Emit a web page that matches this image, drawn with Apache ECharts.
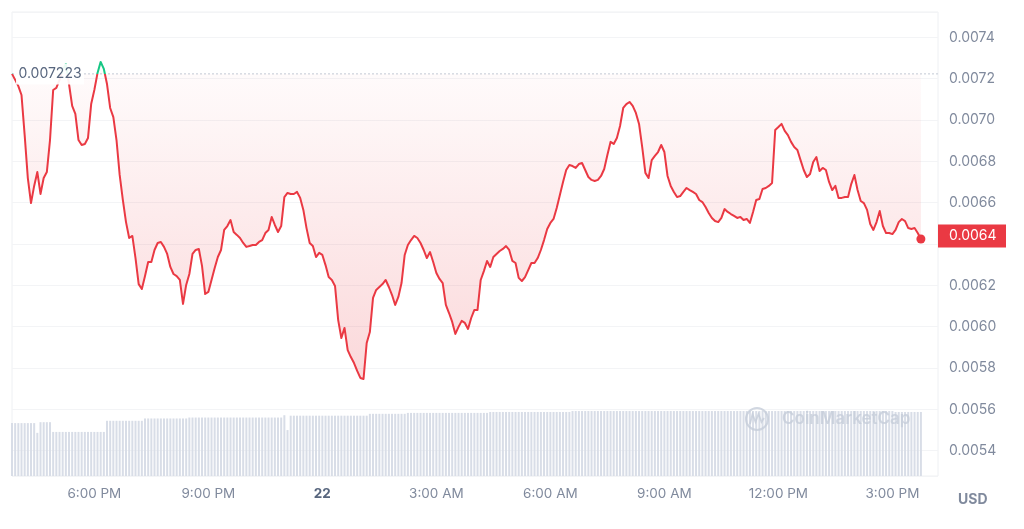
<!DOCTYPE html>
<html><head><meta charset="utf-8">
<script src="https://cdn.jsdelivr.net/npm/echarts@6/dist/echarts.min.js"></script>
<style>html,body{margin:0;padding:0;background:#fff}#c{width:1024px;height:529px}</style>
</head><body><div id="c"></div>
<script>
// Opening (reference) price of the 24h window
const openPrice = 0.007223;
// First sample: 3:50 PM on the 21st, hours counted from midnight of the 21st; one sample every 5 minutes
const startHour = 15 + 50 / 60;
const stepMinutes = 5;
const axisEndHour = 40.2;
const dayLabel = '22';

const prices = [
  0.007223, 0.007194, 0.007164, 0.007121, 0.006927, 0.006719, 0.006598, 0.006681, 0.006748, 0.006642, 0.006719, 0.006748,
  0.006903, 0.007145, 0.007155, 0.007194, 0.007242, 0.007271, 0.007174, 0.007068, 0.007029, 0.006903, 0.006879, 0.006884,
  0.006913, 0.007077, 0.007145, 0.007227, 0.007281, 0.007247, 0.007174, 0.007058, 0.007014, 0.006903, 0.006734, 0.006613,
  0.006506, 0.006429, 0.006439, 0.006332, 0.006206, 0.006182, 0.006245, 0.006313, 0.006313, 0.006371, 0.006405, 0.006410,
  0.006386, 0.006352, 0.006289, 0.006255, 0.006245, 0.006226, 0.006110, 0.006202, 0.006255, 0.006352, 0.006371, 0.006376,
  0.006294, 0.006158, 0.006168, 0.006226, 0.006284, 0.006337, 0.006371, 0.006468, 0.006487, 0.006516, 0.006458, 0.006444,
  0.006429, 0.006405, 0.006386, 0.006390, 0.006395, 0.006395, 0.006410, 0.006419, 0.006453, 0.006468, 0.006531, 0.006492,
  0.006458, 0.006487, 0.006627, 0.006647, 0.006642, 0.006642, 0.006652, 0.006623, 0.006565, 0.006477, 0.006405, 0.006390,
  0.006337, 0.006357, 0.006347, 0.006298, 0.006240, 0.006226, 0.006197, 0.006032, 0.005945, 0.005994, 0.005887, 0.005853,
  0.005824, 0.005786, 0.005752, 0.005747, 0.005921, 0.005974, 0.006139, 0.006178, 0.006192, 0.006206, 0.006226, 0.006192,
  0.006153, 0.006105, 0.006144, 0.006211, 0.006347, 0.006395, 0.006419, 0.006439, 0.006429, 0.006405, 0.006371, 0.006332,
  0.006361, 0.006313, 0.006260, 0.006231, 0.006211, 0.006105, 0.006066, 0.006023, 0.005965, 0.005999, 0.006028, 0.006018,
  0.005989, 0.006042, 0.006081, 0.006081, 0.006226, 0.006269, 0.006318, 0.006289, 0.006337, 0.006352, 0.006366, 0.006376,
  0.006390, 0.006371, 0.006318, 0.006308, 0.006236, 0.006221, 0.006240, 0.006274, 0.006308, 0.006308, 0.006332, 0.006371,
  0.006419, 0.006473, 0.006502, 0.006521, 0.006574, 0.006637, 0.006700, 0.006758, 0.006782, 0.006777, 0.006768, 0.006787,
  0.006792, 0.006758, 0.006724, 0.006710, 0.006705, 0.006710, 0.006729, 0.006763, 0.006831, 0.006894, 0.006884, 0.006913,
  0.006971, 0.007058, 0.007077, 0.007087, 0.007068, 0.007034, 0.006981, 0.006869, 0.006744, 0.006719, 0.006806, 0.006826,
  0.006845, 0.006879, 0.006845, 0.006729, 0.006681, 0.006652, 0.006627, 0.006632, 0.006652, 0.006671, 0.006661, 0.006652,
  0.006642, 0.006613, 0.006603, 0.006579, 0.006550, 0.006526, 0.006511, 0.006506, 0.006526, 0.006569, 0.006555, 0.006545,
  0.006536, 0.006526, 0.006531, 0.006516, 0.006521, 0.006502, 0.006555, 0.006613, 0.006618, 0.006666, 0.006671, 0.006681,
  0.006695, 0.006952, 0.006966, 0.006981, 0.006947, 0.006927, 0.006894, 0.006869, 0.006855, 0.006806, 0.006758, 0.006724,
  0.006739, 0.006797, 0.006821, 0.006753, 0.006768, 0.006758, 0.006700, 0.006661, 0.006681, 0.006623, 0.006623, 0.006627,
  0.006627, 0.006690, 0.006734, 0.006661, 0.006608, 0.006598, 0.006565, 0.006497, 0.006468, 0.006506, 0.006560, 0.006487,
  0.006453, 0.006453, 0.006448, 0.006468, 0.006506, 0.006521, 0.006511, 0.006477, 0.006473, 0.006477, 0.006453, 0.006424
];

// Volume (arbitrary units)
const volumes = [
  1.14, 1.14, 1.14, 1.14, 1.14, 1.14, 1.14, 1.14, 0.93, 1.16, 1.16, 1.16,
  1.16, 0.95, 0.95, 0.95, 0.95, 0.95, 0.95, 0.95, 0.95, 0.95, 0.95, 0.95,
  0.95, 0.95, 0.95, 0.95, 0.95, 0.95, 1.19, 1.19, 1.19, 1.19, 1.19, 1.19,
  1.19, 1.19, 1.19, 1.19, 1.19, 1.19, 1.24, 1.24, 1.24, 1.24, 1.24, 1.24,
  1.24, 1.24, 1.24, 1.24, 1.24, 1.24, 1.24, 1.24, 1.26, 1.26, 1.26, 1.26,
  1.26, 1.26, 1.26, 1.26, 1.26, 1.26, 1.26, 1.26, 1.26, 1.26, 1.26, 1.26,
  1.26, 1.26, 1.26, 1.26, 1.26, 1.26, 1.26, 1.26, 1.26, 1.26, 1.26, 1.26,
  1.26, 1.26, 1.31, 0.99, 1.30, 1.30, 1.30, 1.30, 1.30, 1.30, 1.30, 1.30,
  1.30, 1.30, 1.30, 1.30, 1.30, 1.30, 1.30, 1.30, 1.30, 1.30, 1.30, 1.30,
  1.30, 1.30, 1.30, 1.30, 1.30, 1.34, 1.34, 1.34, 1.34, 1.34, 1.34, 1.34,
  1.34, 1.34, 1.34, 1.34, 1.34, 1.36, 1.36, 1.36, 1.36, 1.36, 1.36, 1.36,
  1.36, 1.36, 1.36, 1.36, 1.36, 1.36, 1.36, 1.36, 1.36, 1.36, 1.36, 1.36,
  1.36, 1.36, 1.36, 1.36, 1.36, 1.36, 1.36, 1.38, 1.38, 1.38, 1.38, 1.38,
  1.38, 1.38, 1.38, 1.38, 1.38, 1.38, 1.38, 1.38, 1.38, 1.38, 1.38, 1.38,
  1.38, 1.38, 1.38, 1.38, 1.38, 1.38, 1.38, 1.38, 1.38, 1.40, 1.40, 1.40,
  1.40, 1.40, 1.40, 1.40, 1.40, 1.40, 1.40, 1.40, 1.40, 1.40, 1.40, 1.40,
  1.40, 1.40, 1.40, 1.40, 1.40, 1.40, 1.40, 1.40, 1.40, 1.40, 1.40, 1.40,
  1.40, 1.40, 1.40, 1.40, 1.40, 1.40, 1.40, 1.40, 1.40, 1.40, 1.40, 1.40,
  1.40, 1.40, 1.40, 1.40, 1.40, 1.40, 1.40, 1.40, 1.40, 1.40, 1.40, 1.40,
  1.40, 1.40, 1.40, 1.40, 1.40, 1.40, 1.40, 1.40, 1.40, 1.40, 1.40, 1.40,
  1.40, 1.40, 1.40, 1.40, 1.40, 1.40, 1.40, 1.40, 1.40, 1.40, 1.40, 1.40,
  1.40, 1.40, 1.40, 1.40, 1.40, 1.40, 1.40, 1.40, 1.40, 1.40, 1.40, 1.40,
  1.40, 1.40, 1.40, 1.40, 1.40, 1.40, 1.40, 1.40, 1.40, 1.40, 1.40, 1.40,
  1.40, 1.40, 1.40, 1.38, 1.38, 1.38, 1.38, 1.38, 1.38, 1.38, 1.38, 1.38
];

const times = prices.map((_, i) => startHour + i * stepMinutes / 60);
const priceData = prices.map((p, i) => [times[i], p]);
const volData = volumes.map((v, i) => [times[i], v]);
const baselineData = [[startHour, openPrice], [axisEndHour, openPrice]];
const last = priceData[priceData.length - 1];

const RED = '#ea3943', GREEN = '#16c784', GREY = '#808a9d', FONT = 'Inter';

function hourLabel(v) {
  const r = Math.round(v);
  if (Math.abs(v - r) > 1e-6 || r % 3 !== 0) return '';
  const hh = ((r % 24) + 24) % 24;
  if (hh === 0) return '{b|' + dayLabel + '}';
  const ap = hh < 12 ? 'AM' : 'PM';
  let h12 = hh % 12; if (h12 === 0) h12 = 12;
  return h12 + ':00 ' + ap;
}
// the axis tick hidden behind the current-price tag
function priceLabel(v) {
  return Math.abs(v - last[1]) < 0.0001 ? '' : v.toFixed(4);
}

const chart = echarts.init(document.getElementById('c'), null, {renderer: 'canvas'});
chart.setOption({
  animation: false,
  backgroundColor: '#ffffff',
  grid: {left: 12, right: 86, top: 12, bottom: 53, show: true, borderColor: '#eef0f3', borderWidth: 1},
  xAxis: {
    type: 'value', min: startHour, max: axisEndHour, splitNumber: 8,
    axisLine: {show: false}, axisTick: {show: false}, splitLine: {show: false},
    axisLabel: {
      showMinLabel: false, showMaxLabel: false, margin: 11, color: GREY, fontSize: 13.5, fontFamily: FONT,
      formatter: hourLabel,
      rich: {b: {fontWeight: 'bold', color: '#58667e', fontSize: 13.5, fontFamily: FONT}}
    }
  },
  yAxis: [
    {
      type: 'value', position: 'right', min: 0.0052776, max: 0.0075224, splitNumber: 11,
      axisLine: {show: false}, axisTick: {show: false},
      splitLine: {lineStyle: {color: '#f3f4f6', width: 1}},
      axisLabel: {showMinLabel: false, showMaxLabel: false, margin: 11, color: GREY, fontSize: 14, fontFamily: FONT,
        formatter: priceLabel}
    },
    {type: 'value', min: 0, max: 10, show: false}
  ],
  visualMap: {
    show: false, type: 'piecewise', seriesIndex: 1, dimension: 1,
    pieces: [
      {gt: 0, lte: openPrice, color: RED},
      {gt: openPrice, lte: 0.01, color: GREEN}
    ]
  },
  series: [
    {
      type: 'bar', yAxisIndex: 1, data: volData, barWidth: 2, silent: true, z: 1,
      itemStyle: {color: '#d8dde7'}
    },
    {
      type: 'line', yAxisIndex: 0, data: priceData, symbol: 'none', showSymbol: false, z: 3,
      lineStyle: {width: 2, join: 'round'},
      areaStyle: {
        origin: openPrice,
        color: new echarts.graphic.LinearGradient(0, 0, 0, 1, [
          {offset: 0, color: 'rgba(234,57,67,0.02)'},
          {offset: 1, color: 'rgba(234,57,67,0.28)'}
        ])
      },
      markPoint: {
        silent: true, animation: false, z: 6,
        data: [
          {coord: [times[0], openPrice], symbol: 'rect', symbolSize: [68, 21], symbolOffset: [38, 0],
           itemStyle: {color: 'rgba(255,255,255,0.92)'},
           label: {show: true, position: 'inside', formatter: String(openPrice), color: '#58667e', fontSize: 14, fontFamily: FONT}},
          {coord: last, symbol: 'circle', symbolSize: 9, itemStyle: {color: RED}, label: {show: false}}
        ]
      }
    },
    {
      type: 'line', yAxisIndex: 0, data: baselineData, symbol: 'none', silent: true, z: 2,
      lineStyle: {type: [2, 2], color: '#c3c9d4', width: 1}
    }
  ]
});

// Current-price tag on the price axis, placed through the axis scale
const py = chart.convertToPixel({yAxisIndex: 0}, last[1]);
const axisX = chart.convertToPixel({xAxisIndex: 0}, axisEndHour);
chart.setOption({
  graphic: [
    {type: 'rect', silent: true, z: 20, shape: {x: axisX, y: py - 14.5, width: 68, height: 23},
     style: {fill: RED}},
    {type: 'text', silent: true, z: 21, x: axisX + 11, y: py - 3,
     style: {text: last[1].toFixed(4), fill: '#ffffff', font: '14px Inter', textVerticalAlign: 'middle'}},
    {type: 'circle', silent: true, z: 10, shape: {cx: 757, cy: 419, r: 11},
     style: {fill: 'none', stroke: '#c6cdd9', lineWidth: 2, opacity: 0.8}},
    {type: 'polyline', silent: true, z: 10,
     shape: {points: [[750, 424], [752.5, 414], [755.5, 422], [758.5, 414], [761.5, 422], [764, 418]]},
     style: {fill: 'none', stroke: '#c6cdd9', lineWidth: 1.8, opacity: 0.8}},
    {type: 'text', silent: true, z: 10, x: 782, y: 419,
     style: {text: 'CoinMarketCap', fill: '#c6cdd9', opacity: 0.8, font: '600 17px Inter', textVerticalAlign: 'middle'}},
    {type: 'text', silent: true, z: 10, x: 958, y: 500,
     style: {text: 'USD', fill: GREY, font: 'bold 14px Inter', textVerticalAlign: 'middle'}}
  ]
});
</script>
</body></html>
